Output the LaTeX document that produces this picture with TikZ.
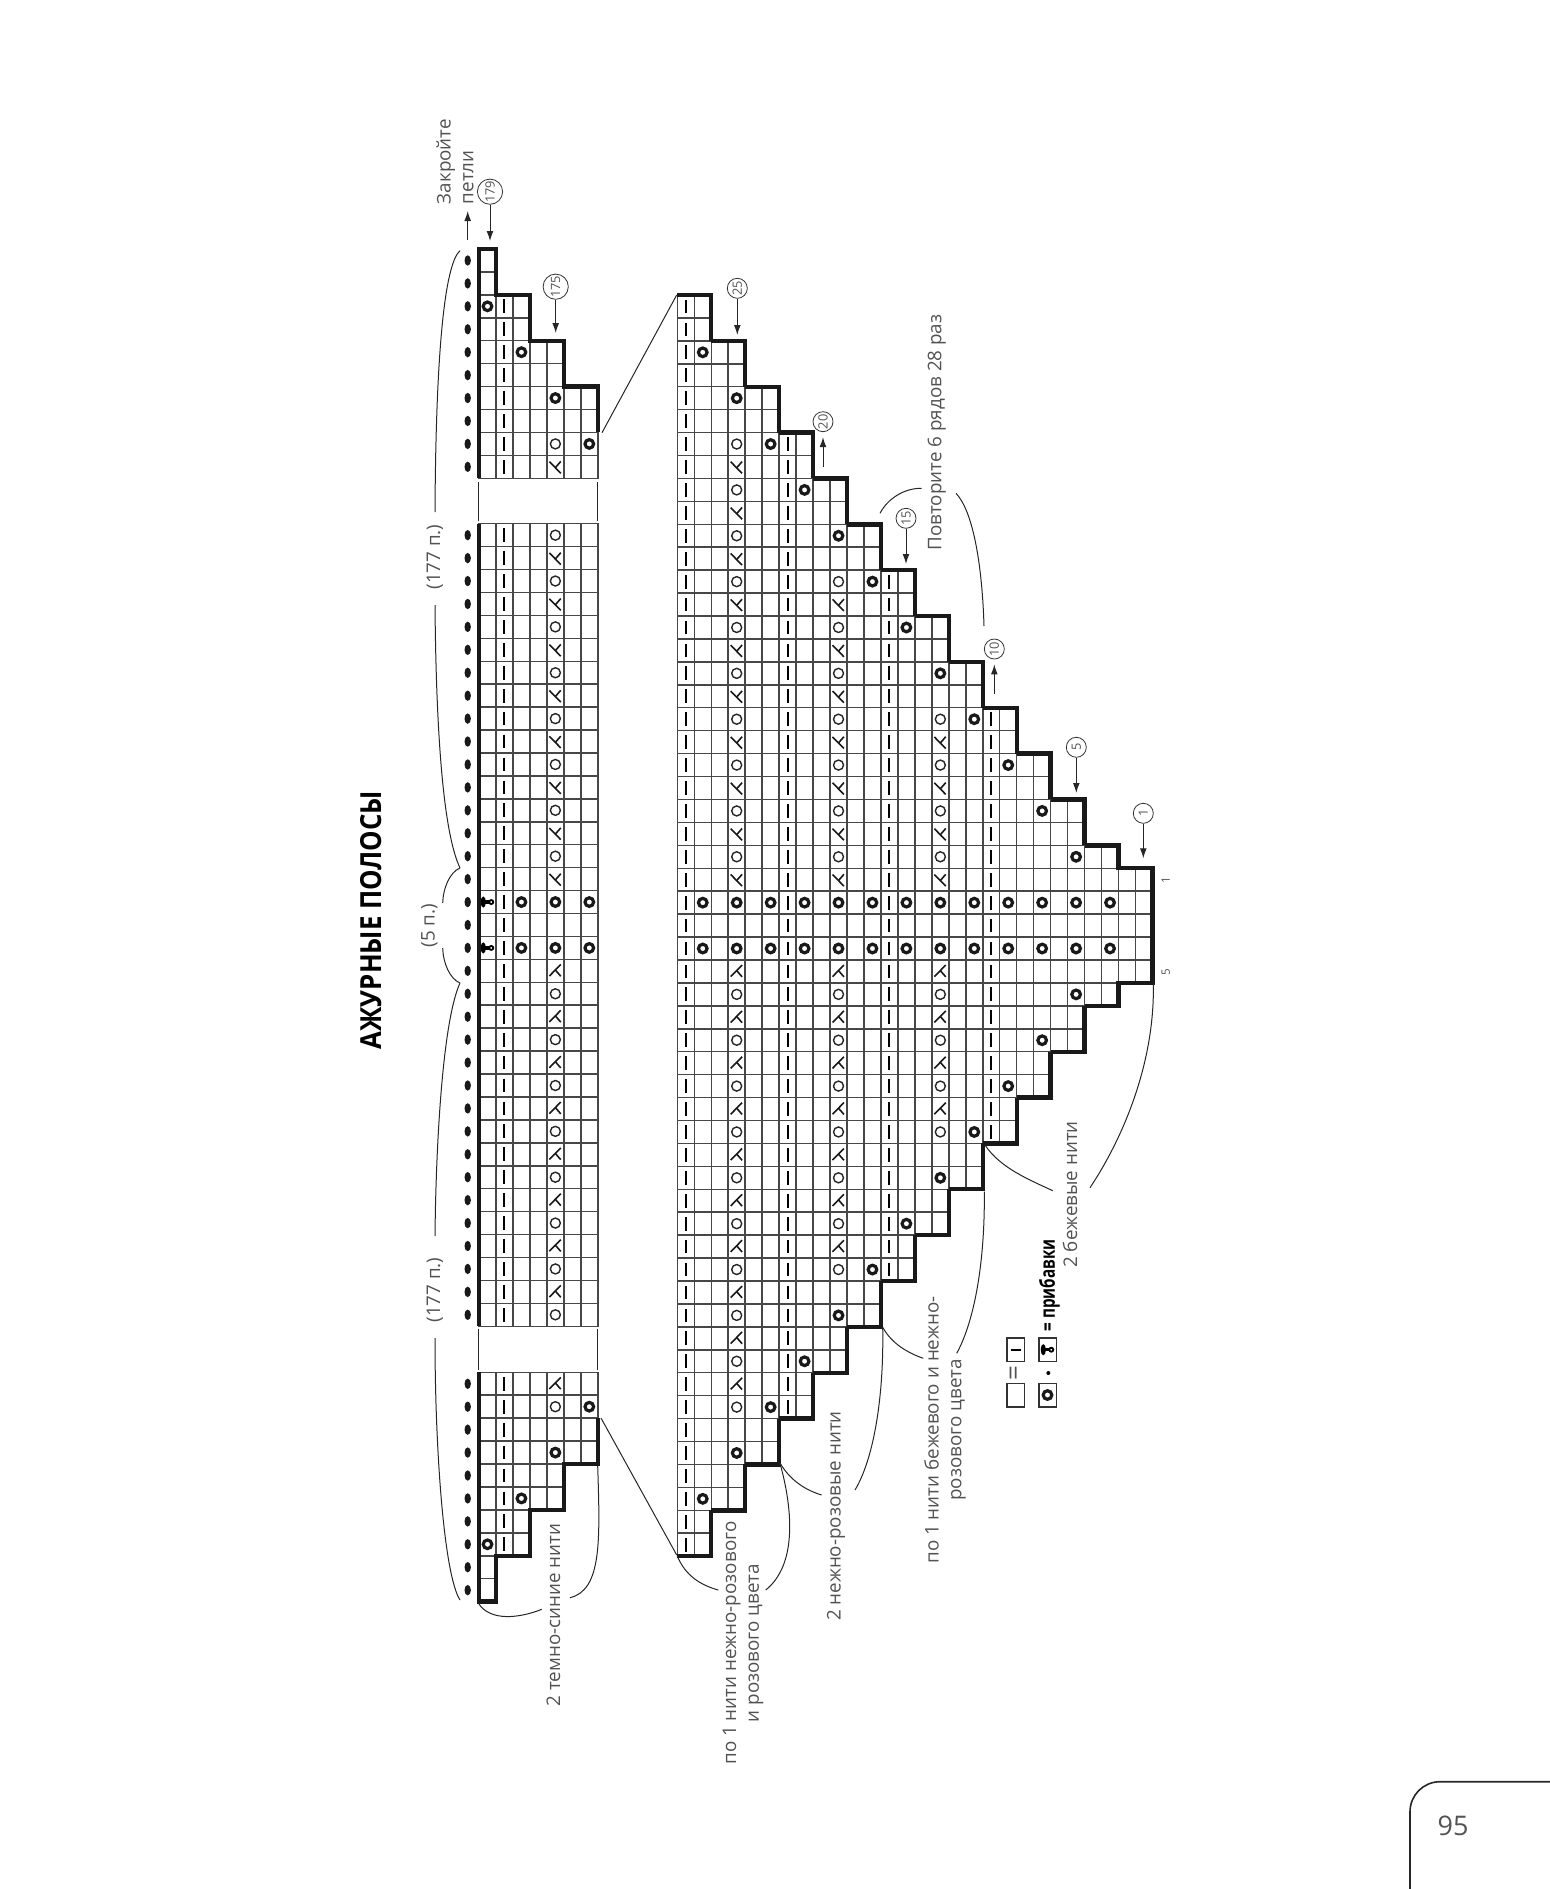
\documentclass[tikz,border=0pt]{standalone}
\usepackage{fontspec}
\setmainfont{Open Sans}
\usepackage{tikz}
\usetikzlibrary{arrows,arrows.meta,shapes.geometric}
\tikzset{>={Latex[length=5pt,width=3.4pt]}}
\definecolor{inkgray}{gray}{0.32}
\tikzstyle{cellline} = [draw=black!72,line width=0.75pt]
\tikzstyle{stair} = [draw=black!90,line width=2.2pt,line cap=square]
\tikzstyle{thinline} = [draw=black!85,line width=0.5pt]
\tikzstyle{bigo} = [circle,draw=black!90,line width=1.6pt,inner sep=0pt,minimum size=4.3pt]
\tikzstyle{smallo} = [circle,draw=black!85,line width=0.7pt,inner sep=0pt,minimum size=5pt]
\tikzstyle{purl} = [draw=black,line width=1pt]
\tikzstyle{chaindot} = [ellipse,fill=black!90,inner sep=0pt,minimum width=3.2pt,minimum height=5.2pt]
\tikzstyle{lbl} = [rotate=90,inner sep=0pt,text=inkgray,font=\fontsize{9.4}{11.4}\selectfont]
\tikzstyle{rowno} = [circle,draw=black!80,line width=0.4pt,inner sep=0pt,rotate=90,text=inkgray,font=\fontsize{6.4}{7}\selectfont]
\tikzstyle{legbox} = [draw=black!80,line width=0.8pt,inner sep=0pt,minimum width=8.8pt,minimum height=11.7pt]
\tikzset{
  yup/.pic={\draw[black!90,line width=0.8pt] (-3pt,2.6pt) -- (2.7pt,-3.2pt);
            \draw[black!90,line width=0.8pt] (0pt,-0.4pt) -- (2.7pt,2.7pt);},
  ydown/.pic={\draw[black!90,line width=0.8pt] (-3pt,-2.6pt) -- (2.7pt,3.2pt);
              \draw[black!90,line width=0.8pt] (0pt,0.4pt) -- (2.7pt,-2.7pt);},
  bobble/.pic={\draw[black,line width=0.9pt] (1.9pt,0pt) circle (1pt);
               \fill[black] (-2.1pt,0pt) ellipse (1.3pt and 2.8pt);
               \fill[black] (-1.5pt,-0.8pt) rectangle (0.8pt,0.8pt);}
}
\begin{document}
\begin{tikzpicture}[x=0.5pt,y=-0.5pt]
    \useasboundingbox (0,0) rectangle (1550,1889);
    % title
    \node [rotate=90,xscale=0.89,inner sep=0pt,font=\fontsize{14.5}{16}\selectfont\bfseries](title) at (370.7,920) {АЖУРНЫЕ ПОЛОСЫ};
    % left strip, upper end
    \begin{scope}[shift={(479,249)},x=8.485pt,y=-11.465pt]
        \foreach \row/\wide in {0/1,1/1,2/3,3/3,4/5,5/5,6/7,7/7,8/7,9/7}
        {
            \foreach \col in {1,...,\wide}
                \draw [cellline] (\col-1,\row) rectangle (\col,\row+1);
            \node [chaindot](ta\row) at (-0.666,\row+0.5) {};
        }
        \foreach \row in {2,...,9}
            \draw [purl] (1.5,\row+0.2) -- (1.5,\row+0.8);
        \foreach \col/\row in {0/2,2/4,4/6,6/8}
            \node [bigo](tb\row) at (\col+0.5,\row+0.5) {};
        \node [smallo](tc) at (4.5,8.5) {};
        \pic at (4.5,9.5) {yup};
        \draw [stair] (0,10) -- (0,0) -- (1,0) -- (1,2) -- (3,2) -- (3,4) -- (5,4) -- (5,6) -- (7,6) -- (7,8);
    \end{scope}
    % left strip, middle
    \begin{scope}[shift={(479,523.7)},x=8.485pt,y=-11.465pt]
        \foreach \row in {0,...,34}
        {
            \foreach \col in {1,...,7}
                \draw [cellline] (\col-1,\row) rectangle (\col,\row+1);
            \node [chaindot](ma\row) at (-0.666,\row+0.5) {};
            \draw [purl] (1.5,\row+0.2) -- (1.5,\row+0.8);
        }
        \foreach \row in {0,...,15}
        {
            \ifodd\row \pic at (4.5,\row+0.5) {yup}; \else \node [smallo](mo\row) at (4.5,\row+0.5) {}; \fi
        }
        \foreach \row in {19,...,34}
        {
            \ifodd\row \pic at (4.5,\row+0.5) {ydown}; \else \node [smallo](mo\row) at (4.5,\row+0.5) {}; \fi
        }
        \foreach \row in {16,18}
        {
            \pic at (0.5,\row+0.5) {bobble};
            \foreach \col in {2,4,6}
                \node [bigo](mb\col\row) at (\col+0.5,\row+0.5) {};
        }
        \draw [stair] (0,0) -- (0,35);
    \end{scope}
    % left strip, lower end
    \begin{scope}[shift={(479,1372.3)},x=8.485pt,y=-11.465pt]
        \foreach \row/\wide in {0/7,1/7,2/7,3/7,4/5,5/5,6/3,7/3,8/1,9/1}
        {
            \foreach \col in {1,...,\wide}
                \draw [cellline] (\col-1,\row) rectangle (\col,\row+1);
            \node [chaindot](ba\row) at (-0.666,\row+0.5) {};
        }
        \foreach \row in {0,...,7}
            \draw [purl] (1.5,\row+0.2) -- (1.5,\row+0.8);
        \foreach \col/\row in {6/1,4/3,2/5,0/7}
            \node [bigo](bb\row) at (\col+0.5,\row+0.5) {};
        \node [smallo](bc) at (4.5,1.5) {};
        \pic at (4.5,0.5) {ydown};
        \draw [stair] (7,2) -- (7,4) -- (5,4) -- (5,6) -- (3,6) -- (3,8) -- (1,8) -- (1,10) -- (0,10) -- (0,0);
    \end{scope}
    % big triangle
    \begin{scope}[shift={(677.3,295)},x=8.485pt,y=-11.465pt]
        \foreach \row in {0,...,54}
        {
            \pgfmathtruncatemacro\wide{min(\row,54-\row)>=25 ? 28 : 2*floor(min(\row,54-\row)/2)+2}
            \foreach \col in {1,...,\wide}
                \draw [cellline] (\col-1,\row) rectangle (\col,\row+1);
        }
        \foreach \col/\first in {0/0,6/6,12/12,18/18}
        {
            \pgfmathtruncatemacro\last{54-\first}
            \foreach \row in {\first,...,\last}
                \draw [purl] (\col+0.5,\row+0.2) -- (\col+0.5,\row+0.8);
        }
        \foreach \col in {1,3,...,23}
        {
            \pgfmathtruncatemacro\rowa{\col+1}
            \pgfmathtruncatemacro\rowb{53-\col}
            \node [bigo](da\col) at (\col+0.5,\rowa+0.5) {};
            \node [bigo](db\col) at (\col+0.5,\rowb+0.5) {};
        }
        \foreach \col in {1,3,...,25}
        {
            \node [bigo](ca\col) at (\col+0.5,26.5) {};
            \node [bigo](cb\col) at (\col+0.5,28.5) {};
        }
        \foreach \col/\first in {3/6,9/12,15/18}
        {
            \foreach \row in {\first,...,25}
            {
                \pgfmathtruncatemacro\rowb{54-\row}
                \ifodd\row
                    \pic at (\col+0.5,\row+0.5) {yup};
                    \pic at (\col+0.5,\rowb+0.5) {ydown};
                \else
                    \node [smallo](ea\col-\row) at (\col+0.5,\row+0.5) {};
                    \node [smallo](eb\col-\row) at (\col+0.5,\rowb+0.5) {};
                \fi
            }
        }
        \foreach \wide in {2,4,...,24}
        {
            \draw [stair] (\wide-2,\wide-2) -- (\wide,\wide-2) -- (\wide,\wide);
            \draw [stair] (\wide-2,57-\wide) -- (\wide,57-\wide) -- (\wide,55-\wide);
        }
        \draw [stair] (24,24) -- (26,24) -- (26,25) -- (28,25) -- (28,30) -- (26,30) -- (26,31) -- (24,31);
    \end{scope}
    % points used by the connectors
    \coordinate (gapa1) at (478.7,482);
    \coordinate (gapa2) at (478.7,521);
    \coordinate (gapb1) at (597.7,482);
    \coordinate (gapb2) at (597.7,521);
    \coordinate (gapc1) at (478.7,1329);
    \coordinate (gapc2) at (478.7,1370);
    \coordinate (gapd1) at (597.7,1329);
    \coordinate (gapd2) at (597.7,1370);
    \draw [thinline] (gapa1) -- (gapa2);
    \draw [thinline] (gapb1) -- (gapb2);
    \draw [thinline] (gapc1) -- (gapc2);
    \draw [thinline] (gapd1) -- (gapd2);
    \coordinate (wta) at (602,432.7);
    \coordinate (wtb) at (676.7,295);
    \coordinate (wba) at (601,1418);
    \coordinate (wbb) at (676.7,1555);
    \draw [thinline] (wta) -- (wtb);
    \draw [thinline] (wba) -- (wbb);
    % braces along the chain
    \node [lbl](n177a) at (435,557) {(177 п.)};
    \node [lbl](n5) at (429.3,925.7) {(5 п.)};
    \node [lbl](n177b) at (435,1290) {(177 п.)};
    \coordinate (bra) at (460,250.7);
    \coordinate (brb) at (435,512);
    \coordinate (brc) at (435,605);
    \coordinate (tipa) at (460,868);
    \coordinate (brd) at (442.7,903);
    \coordinate (bre) at (442.7,948);
    \coordinate (tipb) at (460,983);
    \coordinate (brf) at (435,1236);
    \coordinate (brg) at (435,1338);
    \coordinate (brh) at (460,1600);
    \draw [thinline] (bra) .. controls (447,262) and (436,330) .. (brb);
    \draw [thinline] (brc) .. controls (436,720) and (442,830) .. (tipa);
    \draw [thinline] (tipa) .. controls (450,872) and (443,888) .. (brd);
    \draw [thinline] (bre) .. controls (443,963) and (450,979) .. (tipb);
    \draw [thinline] (tipb) .. controls (443,1020) and (436,1140) .. (brf);
    \draw [thinline] (brg) .. controls (435,1450) and (444,1575) .. (brh);
    % row numbers
    \foreach \id/\px/\py/\aend in {179/490/191.7/241,175/555.7/286.7/333}
    {
        \node [rowno,minimum size=12.6pt](c\id) at (\px,\py) {\id};
        \coordinate (t\id) at (\px,\aend);
        \draw [->,thinline] (c\id) -- (t\id);
    }
    \foreach \id/\px/\py/\aend in {25/737.3/288.3/335,15/906/518.3/564,5/1076.3/747.3/793,1/1143.3/813.3/858.3}
    {
        \node [rowno,minimum size=10pt](c\id) at (\px,\py) {\id};
        \coordinate (t\id) at (\px,\aend);
        \draw [->,thinline] (c\id) -- (t\id);
    }
    \foreach \id/\px/\py/\astart in {20/823/421.7/467,10/994.3/649/694}
    {
        \node [rowno,minimum size=10pt](c\id) at (\px,\py) {\id};
        \coordinate (t\id) at (\px,\astart);
        \draw [->,thinline,shorten >=2.5pt] (t\id) -- (c\id);
    }
    \node [lbl,font=\fontsize{5.8}{6}\selectfont](rowa) at (1165.7,880) {1};
    \node [lbl,font=\fontsize{5.8}{6}\selectfont](rowb) at (1165.7,971.7) {5};
    % closing off
    \node [lbl,align=left](close) at (455,161.5) {Закройте\\петли};
    \coordinate (closea) at (467.7,240);
    \coordinate (closeb) at (467.7,211);
    \draw [->,thinline] (closea) -- (closeb);
    % yarn notes
    \node [lbl](yarna) at (553.3,1615) {2 темно-синие нити};
    \coordinate (yaa) at (478.3,1603);
    \coordinate (yab) at (541.7,1609.3);
    \coordinate (yac) at (597.7,1466);
    \coordinate (yad) at (570,1597.7);
    \draw [thinline] (yaa) .. controls (490,1622) and (520,1618) .. (yab);
    \draw [thinline] (yac) .. controls (600,1540) and (602,1590) .. (yad);
    \node [lbl,align=center](yarnb) at (743,1643) {по 1 нити нежно-розового\\и розового цвета};
    \coordinate (yba) at (677.3,1556);
    \coordinate (ybb) at (718.3,1590);
    \coordinate (ybc) at (780,1463.3);
    \coordinate (ybd) at (765.7,1590);
    \draw [thinline] (yba) .. controls (685,1575) and (700,1585) .. (ybb);
    \draw [thinline] (ybc) .. controls (793,1510) and (797,1565) .. (ybd);
    \node [lbl](yarnc) at (836,1516) {2 нежно-розовые нити};
    \coordinate (yca) at (780,1463);
    \coordinate (ycb) at (821.7,1495);
    \coordinate (ycc) at (882.7,1327.3);
    \coordinate (ycd) at (855,1490);
    \draw [thinline] (yca) .. controls (790,1480) and (805,1490) .. (ycb);
    \draw [thinline] (ycc) .. controls (884,1400) and (873,1460) .. (ycd);
    \node [lbl,align=center](yarnd) at (945,1430) {по 1 нити бежевого и нежно-\\розового цвета};
    \coordinate (yda) at (882.7,1327.3);
    \coordinate (ydb) at (923.3,1358.3);
    \coordinate (ydc) at (984.3,1191.7);
    \coordinate (ydd) at (956.7,1353.3);
    \draw [thinline] (yda) .. controls (892,1344) and (908,1353) .. (ydb);
    \draw [thinline] (ydc) .. controls (985,1260) and (975,1320) .. (ydd);
    \node [lbl](yarne) at (1070,1194.5) {2 бежевые нити};
    \coordinate (yea) at (985,1145);
    \coordinate (yeb) at (1052.7,1190.7);
    \coordinate (yec) at (1153.3,983.3);
    \coordinate (yed) at (1090,1187.7);
    \draw [thinline] (yea) .. controls (1000,1168) and (1030,1180) .. (yeb);
    \draw [thinline] (yec) .. controls (1155,1060) and (1125,1135) .. (yed);
    \node [lbl](repeat) at (936.7,432.5) {Повторите 6 рядов 28 раз};
    \coordinate (rpa) at (880,513.3);
    \coordinate (rpb) at (921.7,488.3);
    \coordinate (rpc) at (956,493.3);
    \coordinate (rpd) at (984,626);
    \draw [thinline] (rpa) .. controls (888,498) and (905,488) .. (rpb);
    \draw [thinline] (rpc) .. controls (972,510) and (982,560) .. (rpd);
    % legend
    \node [legbox](leg1) at (1015.5,1395) {};
    \node [legbox](leg2) at (1015.5,1349.7) {};
    \node [legbox](leg3) at (1047.5,1395) {};
    \node [legbox](leg4) at (1047.5,1349.7) {};
    \coordinate (legm1) at (1010.5,1349.7);
    \coordinate (legm2) at (1020.5,1349.7);
    \draw [purl] (legm1) -- (legm2);
    \node [bigo](legb) at (leg3) {};
    \pic at (leg4) {bobble};
    \node [rotate=90,inner sep=0pt,text=inkgray,font=\fontsize{13}{14}\selectfont](legeq) at (1016,1373) {=};
    \node [circle,fill=black,inner sep=0pt,minimum size=2pt](legdot) at (1048.3,1373) {};
    \node [rotate=90,xscale=0.74,inner sep=0pt,font=\fontsize{10.3}{11}\selectfont\bfseries](legtxt) at (1049.3,1285.5) {= прибавки};
    % page tab
    \coordinate (taba) at (1410,1889);
    \coordinate (tabb) at (1550,1781.7);
    \draw [draw=black!85,line width=0.8pt,rounded corners=15pt] (taba) |- (tabb);
    \node [inner sep=0pt,text=inkgray,font=\fontsize{13.5}{15}\selectfont](page) at (1453,1825.7) {95};
\end{tikzpicture}
\end{document}
